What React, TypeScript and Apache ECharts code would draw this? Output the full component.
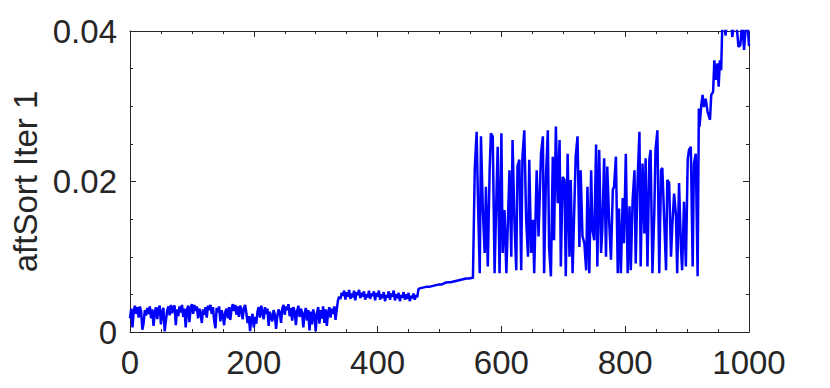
import React, { useEffect, useRef } from "react";
import * as echarts from "echarts";

// ---- data ----
// low phase: samples every 2 units starting at 0
const lowPhaseStart = 0;
const lowPhaseStep = 2;
const lowPhaseY = [0.0018,0.0031,0.0006,0.0028,0.0035,0.0024,0.0033,0.0019,0.0034,0.0027,0.0003,0.0012,0.0029,0.0022,0.0032,0.0024,0.0034,0.0018,0.0030,0.0008,0.0026,0.0033,0.0017,0.0031,0.0035,0.0010,0.0027,0.0032,0.0001,0.0015,0.0028,0.0034,0.0022,0.0036,0.0025,0.0033,0.0035,0.0009,0.0030,0.0021,0.0034,0.0026,0.0036,0.0020,0.0031,0.0006,0.0029,0.0035,0.0013,0.0032,0.0037,0.0024,0.0036,0.0028,0.0034,0.0018,0.0031,0.0025,0.0012,0.0030,0.0023,0.0033,0.0019,0.0035,0.0029,0.0036,0.0024,0.0033,0.0015,0.0005,0.0032,0.0026,0.0034,0.0014,0.0029,0.0022,0.0009,0.0027,0.0031,0.0018,0.0033,0.0016,0.0030,0.0037,0.0028,0.0036,0.0023,0.0034,0.0020,0.0035,0.0029,0.0017,0.0032,0.0036,0.0025,0.0012,0.0021,0.0001,0.0018,0.0024,0.0006,0.0020,0.0011,0.0027,0.0033,0.0019,0.0035,0.0026,0.0017,0.0033,0.0024,0.0031,0.0008,0.0027,0.0020,0.0014,0.0029,0.0023,0.0004,0.0021,0.0030,0.0026,0.0012,0.0031,0.0036,0.0023,0.0034,0.0029,0.0037,0.0021,0.0032,0.0015,0.0033,0.0027,0.0009,0.0028,0.0035,0.0020,0.0031,0.0026,0.0006,0.0024,0.0032,0.0015,0.0029,0.0002,0.0027,0.0010,0.0030,0.0022,0.0001,0.0025,0.0033,0.0011,0.0029,0.0018,0.0034,0.0012,0.0030,0.0008,0.0026,0.0033,0.0019,0.0031,0.0024,0.0034,0.0016];

// plateau phase: samples every 2 units starting at 334
const midPhaseStart = 334;
const midPhaseStep = 2;
const midPhaseY = [0.0030,0.0042,0.0047,0.0044,0.0052,0.0048,0.0055,0.0043,0.0053,0.0047,0.0056,0.0044,0.0051,0.0046,0.0055,0.0042,0.0053,0.0049,0.0056,0.0045,0.0052,0.0047,0.0054,0.0043,0.0050,0.0046,0.0055,0.0044,0.0051,0.0048,0.0054,0.0042,0.0052,0.0047,0.0055,0.0043,0.0050,0.0045,0.0053,0.0041,0.0049,0.0046,0.0054,0.0043,0.0051,0.0047,0.0055,0.0042,0.0050,0.0045,0.0052,0.0041,0.0049,0.0046,0.0053,0.0043,0.0050,0.0044,0.0052,0.0041,0.0048,0.0045,0.0051,0.0043,0.0049,0.0046,0.0057];

const rampPhaseX = [468,473,478,483,488,493,498,503,508,513,518,523,528,533,538,543,548,553];
const rampPhaseY = [0.0058,0.0059,0.0060,0.0060,0.0061,0.0062,0.0063,0.0063,0.0065,0.0066,0.0066,0.0067,0.0068,0.0069,0.0070,0.0071,0.0071,0.0072];

const burstPhaseX = [554,557,560,562,565,567,570,573,575,578,581,583,586,589,591,594,597,600,602,605,608,613,616,618,621,624,626,629,632,634,637,640,643,645,648,651,653,657,660,664,667,669,672,675,677,680,683,685,688,691,694,696,699,702,704,707,710,712,715,718,720,723,726,728,731,734,737,739,742,745,747,750,753,755,758,761,763,766,769,771,774,777,780,782,785,788,790,793,796,798,801,804,807,809,812,815,817,820,823,825,828,831,833,836,839,841,844,847,849,852,855,858,860,863,866,868,871,874,876,879,882,884,887,890,892,895,898,901,903,906,909,911,914,917];
const burstPhaseY = [0.0071,0.0218,0.0266,0.0180,0.0078,0.0260,0.0162,0.0105,0.0193,0.0087,0.0215,0.0264,0.0260,0.0078,0.0149,0.0246,0.0078,0.0264,0.0105,0.0162,0.0078,0.0215,0.0100,0.0255,0.0149,0.0082,0.0220,0.0229,0.0082,0.0233,0.0268,0.0149,0.0100,0.0229,0.0105,0.0149,0.0078,0.0215,0.0127,0.0237,0.0260,0.0078,0.0206,0.0268,0.0113,0.0074,0.0233,0.0122,0.0273,0.0171,0.0255,0.0087,0.0206,0.0202,0.0074,0.0237,0.0100,0.0202,0.0078,0.0171,0.0233,0.0260,0.0113,0.0215,0.0127,0.0118,0.0082,0.0193,0.0078,0.0215,0.0136,0.0122,0.0249,0.0087,0.0242,0.0105,0.0136,0.0231,0.0100,0.0220,0.0149,0.0096,0.0189,0.0193,0.0233,0.0078,0.0164,0.0078,0.0178,0.0118,0.0237,0.0078,0.0167,0.0082,0.0175,0.0215,0.0091,0.0202,0.0266,0.0087,0.0224,0.0131,0.0231,0.0087,0.0229,0.0242,0.0078,0.0158,0.0242,0.0268,0.0078,0.0215,0.0218,0.0149,0.0082,0.0202,0.0198,0.0100,0.0140,0.0184,0.0155,0.0078,0.0198,0.0113,0.0082,0.0173,0.0087,0.0229,0.0242,0.0246,0.0087,0.0224,0.0237,0.0074];

const climbPhaseX = [919,920,923,925,927,930,933,937,939,942,944,946,949,951,953,955,957,960,962,965,968,971,973,976,979,983,986,989,992,995,998,1000];
const climbPhaseY = [0.0297,0.0273,0.0302,0.0315,0.0299,0.0310,0.0293,0.0282,0.0315,0.0319,0.0361,0.0335,0.0357,0.0326,0.0361,0.0348,0.0412,0.0420,0.0394,0.0415,0.0408,0.0418,0.0392,0.0410,0.0416,0.0379,0.0381,0.0412,0.0375,0.0409,0.0404,0.0380];

const xTicks = { min: 0, max: 1000, interval: 200 };
const yTicks = { min: 0, max: 0.04, interval: 0.02 };
const yName = "aftSort Iter 1";

const TEXT = "#262626";
const FONT = "Liberation Sans, Arial, Helvetica, sans-serif";

function pairs(xs: number[], ys: number[]): [number, number][] {
  return xs.map((x, i) => [x, ys[i]]);
}
function sampled(start: number, step: number, ys: number[]): [number, number][] {
  return ys.map((y, i) => [start + i * step, y]);
}

export default function App() {
  const ref = useRef<HTMLDivElement>(null);
  useEffect(() => {
    if (!ref.current) return;
    const chart = echarts.init(ref.current, null, { renderer: "svg" });
    const data = [
      ...sampled(lowPhaseStart, lowPhaseStep, lowPhaseY),
      ...sampled(midPhaseStart, midPhaseStep, midPhaseY),
      ...pairs(rampPhaseX, rampPhaseY),
      ...pairs(burstPhaseX, burstPhaseY),
      ...pairs(climbPhaseX, climbPhaseY),
    ];
    const axisLine = { show: true, onZero: false, lineStyle: { color: TEXT, width: 1 } };
    const tick = { show: true, inside: true, length: 6, lineStyle: { color: TEXT, width: 1 } };
    const minor = { show: true, splitNumber: 4, length: 3, lineStyle: { color: TEXT, width: 1 } };
    const label = { fontSize: 33, color: TEXT, fontFamily: FONT };
    chart.setOption({
      animation: false,
      grid: { left: 130, right: 81, top: 31, bottom: 56, containLabel: false },
      xAxis: [
        {
          type: "value", position: "bottom", ...xTicks,
          axisLine, axisTick: tick, minorTick: minor, splitLine: { show: false },
          axisLabel: { ...label, margin: 14, formatter: (v: number) => String(v) },
        },
        {
          type: "value", position: "top", ...xTicks,
          axisLine, axisTick: tick, minorTick: minor, splitLine: { show: false },
          axisLabel: { show: false },
        },
      ],
      yAxis: [
        {
          type: "value", position: "left", ...yTicks,
          axisLine, axisTick: tick, minorTick: minor, splitLine: { show: false },
          axisLabel: { ...label, margin: 13, formatter: (v: number) => String(v) },
          name: yName, nameLocation: "middle", nameGap: 80, nameRotate: 90,
          nameTextStyle: { fontSize: 33, color: TEXT, fontFamily: FONT },
        },
        {
          type: "value", position: "right", ...yTicks,
          axisLine, axisTick: tick, minorTick: minor, splitLine: { show: false },
          axisLabel: { show: false },
        },
      ],
      series: [
        {
          type: "line", data, xAxisIndex: 0, yAxisIndex: 0,
          symbol: "none", showSymbol: false, clip: true,
          lineStyle: { color: "#0000ff", width: 2.5 },
        },
      ],
    });
    return () => chart.dispose();
  }, []);
  return (
    <div
      ref={ref}
      style={{ position: "fixed", left: 0, top: 0, width: 830, height: 388, background: "#fff" }}
    />
  );
}
